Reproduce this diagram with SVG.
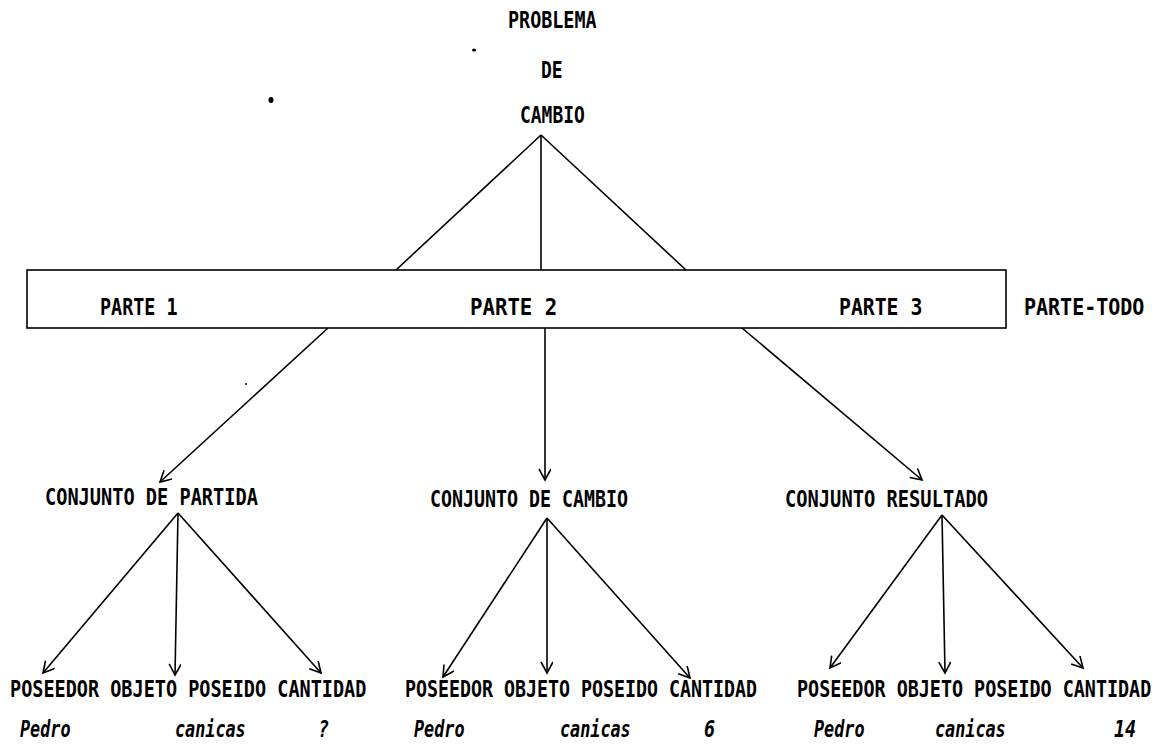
<svg xmlns="http://www.w3.org/2000/svg" width="1169" height="752" viewBox="0 0 1169 752">
<style>
.t{font-family:"DejaVu Sans Mono","Liberation Mono",monospace;font-weight:bold;font-size:23px;fill:#000}
.i{font-family:"DejaVu Sans Mono","Liberation Mono",monospace;font-style:italic;font-weight:bold;font-size:23px;fill:#000}
.ln{stroke:#000;stroke-width:1.6;fill:none}
</style>
<defs>
<marker id="ah" markerWidth="14" markerHeight="14" refX="12" refY="6" orient="auto" markerUnits="userSpaceOnUse">
<path d="M1,0 L12,6 L1,12" fill="none" stroke="#000" stroke-width="1.6"/>
</marker>
</defs>
<rect width="1169" height="752" fill="#fff"/>
<g id="dots">
<ellipse cx="474" cy="50" rx="2" ry="1.5" fill="#000"/>
<ellipse cx="271" cy="100" rx="2.5" ry="3" fill="#000"/>
<circle cx="246" cy="384" r="1" fill="#000"/>
</g>
<g id="problema">
<text class="t" transform="translate(508,28) scale(0.8,1)">PROBLEMA</text>
<text class="t" transform="translate(541,78) scale(0.78,1)">DE</text>
<text class="t" transform="translate(520,123) scale(0.78,1)">CAMBIO</text>
</g>
<g id="parte-todo">
<rect x="27" y="270" width="979" height="58" fill="none" stroke="#000" stroke-width="1.6"/>
<text class="t" transform="translate(100,315) scale(0.8,1)">PARTE 1</text>
<text class="t" transform="translate(470,315) scale(0.9,1)">PARTE 2</text>
<text class="t" transform="translate(839,315) scale(0.86,1)">PARTE 3</text>
<text class="t" transform="translate(1024,315) scale(0.87,1)">PARTE-TODO</text>
</g>
<g id="conjunto-partida">
<text class="t" transform="translate(45,505) scale(0.81,1)">CONJUNTO DE PARTIDA</text>
<text class="t" transform="translate(10,697) scale(0.805,1)">POSEEDOR OBJETO POSEIDO CANTIDAD</text>
<text class="i" transform="translate(20,737) scale(0.73,1)">Pedro</text>
<text class="i" transform="translate(175,737) scale(0.73,1)">canicas</text>
<text class="i" transform="translate(318,737) scale(0.8,1)">?</text>
</g>
<g id="conjunto-cambio">
<text class="t" transform="translate(430,507) scale(0.795,1)">CONJUNTO DE CAMBIO</text>
<text class="t" transform="translate(405,697) scale(0.795,1)">POSEEDOR OBJETO POSEIDO CANTIDAD</text>
<text class="i" transform="translate(414,737) scale(0.73,1)">Pedro</text>
<text class="i" transform="translate(560,737) scale(0.73,1)">canicas</text>
<text class="i" transform="translate(704,737) scale(0.8,1)">6</text>
</g>
<g id="conjunto-resultado">
<text class="t" transform="translate(785,507) scale(0.815,1)">CONJUNTO RESULTADO</text>
<text class="t" transform="translate(797,697) scale(0.8,1)">POSEEDOR OBJETO POSEIDO CANTIDAD</text>
<text class="i" transform="translate(814,737) scale(0.73,1)">Pedro</text>
<text class="i" transform="translate(935,737) scale(0.73,1)">canicas</text>
<text class="i" transform="translate(1114,737) scale(0.8,1)">14</text>
</g>
<g id="connectors">
<line class="ln" x1="541" y1="135" x2="396" y2="270"/>
<line class="ln" x1="541" y1="135" x2="541" y2="270"/>
<line class="ln" x1="541" y1="135" x2="686" y2="270"/>
<line class="ln" x1="328" y1="328" x2="160" y2="482" marker-end="url(#ah)"/>
<line class="ln" x1="545" y1="328" x2="545" y2="480" marker-end="url(#ah)"/>
<line class="ln" x1="742" y1="328" x2="922" y2="480" marker-end="url(#ah)"/>
<line class="ln" x1="178" y1="513" x2="43" y2="673" marker-end="url(#ah)"/>
<line class="ln" x1="178" y1="513" x2="175" y2="675" marker-end="url(#ah)"/>
<line class="ln" x1="178" y1="513" x2="321" y2="673" marker-end="url(#ah)"/>
<line class="ln" x1="547" y1="518" x2="443" y2="677" marker-end="url(#ah)"/>
<line class="ln" x1="547" y1="518" x2="547" y2="673" marker-end="url(#ah)"/>
<line class="ln" x1="547" y1="518" x2="690" y2="678" marker-end="url(#ah)"/>
<line class="ln" x1="942" y1="515" x2="830" y2="668" marker-end="url(#ah)"/>
<line class="ln" x1="942" y1="515" x2="945" y2="673" marker-end="url(#ah)"/>
<line class="ln" x1="942" y1="515" x2="1083" y2="668" marker-end="url(#ah)"/>
</g>
</svg>
